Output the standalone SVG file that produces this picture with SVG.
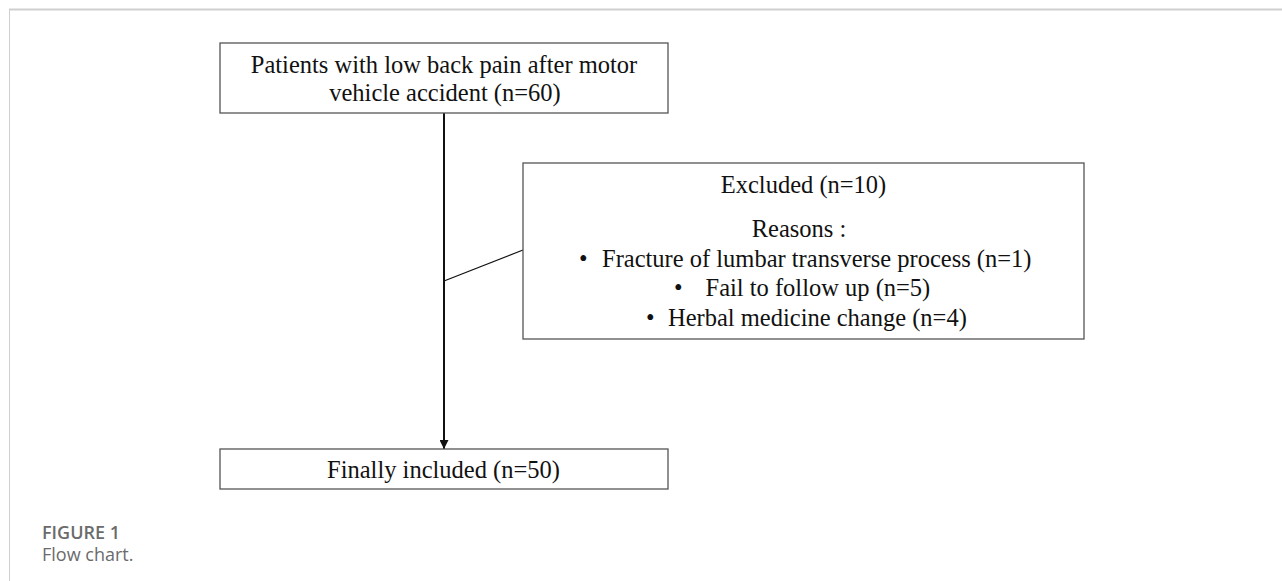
<svg xmlns="http://www.w3.org/2000/svg" width="1282" height="581" viewBox="0 0 1282 581">
<style>
.box{fill:#fff;stroke:#555;stroke-width:1.3}
.t{font-family:"Liberation Serif","Times New Roman",serif;font-size:24.5px;fill:#111}
.c{text-anchor:middle}
.cap{font-family:"Open Sans",Lato,sans-serif;fill:#6b6b6b}
.conn{stroke:#111;fill:none}
</style>
<defs>
<marker id="arr" viewBox="0 0 10 10" refX="10" refY="5" markerWidth="4.5" markerHeight="4.5" orient="auto" markerUnits="strokeWidth">
<path d="M0,0 L10,5 L0,10 z" fill="#111"/>
</marker>
</defs>
<rect width="1282" height="581" fill="#fff"/>
<g id="frame">
<line x1="9" y1="9.5" x2="1282" y2="9.5" stroke="#cfcfcf" stroke-width="2"/>
<line x1="9.5" y1="9" x2="9.5" y2="581" stroke="#cfcfcf" stroke-width="1"/>
</g>
<g id="connectors">
<line class="conn" x1="444" y1="113" x2="444" y2="449" stroke-width="2" marker-end="url(#arr)"/>
<line class="conn" x1="444" y1="281" x2="523" y2="250" stroke-width="1.2"/>
</g>
<g id="node-start">
<rect class="box" x="220" y="43" width="448" height="70"/>
<text class="t c" x="444" y="72.5">Patients with low back pain after motor</text>
<text class="t c" x="445" y="101">vehicle accident (n=60)</text>
</g>
<g id="node-excluded">
<rect class="box" x="523" y="163" width="561" height="176"/>
<text class="t c" x="803.5" y="193">Excluded (n=10)</text>
<text class="t c" x="799" y="237">Reasons :</text>
<text class="t" x="579" y="267">•</text>
<text class="t" x="602" y="267">Fracture of lumbar transverse process (n=1)</text>
<text class="t" x="674" y="296">•</text>
<text class="t" x="705.5" y="296">Fail to follow up (n=5)</text>
<text class="t" x="646" y="326">•</text>
<text class="t" x="668" y="326">Herbal medicine change (n=4)</text>
</g>
<g id="node-final">
<rect class="box" x="220" y="449" width="448" height="40"/>
<text class="t c" x="443.5" y="478">Finally included (n=50)</text>
</g>
<g id="caption">
<text class="cap" x="42" y="539" font-size="18" font-weight="600">FIGURE 1</text>
<text class="cap" x="42" y="561" font-size="18">Flow chart.</text>
</g>
</svg>
